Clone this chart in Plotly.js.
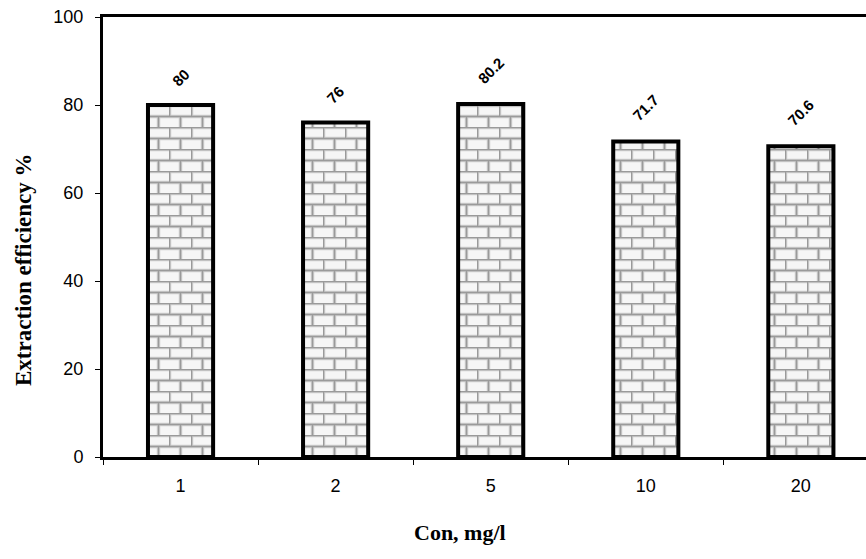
<!DOCTYPE html>
<html>
<head>
<meta charset="utf-8">
<script src="https://cdn.plot.ly/plotly-3.0.1.min.js"></script>
<style>html,body{margin:0;padding:0;background:#fff;}#chart{width:866px;height:559px;}</style>
</head>
<body>
<div id="chart"></div>
<script>
// ---- data ----
const categories = ['1', '2', '5', '10', '20'];
const values = [80, 76, 80.2, 71.7, 70.6];
const valueLabels = ['80', '76', '80.2', '71.7', '70.6'];
const yTickValues = [0, 20, 40, 60, 80, 100];
const xTitle = 'Con, mg/l';
const yTitle = 'Extraction efficiency %';

const W = 866, H = 559;
const mL = 103, mR = 0, mT = 17, mB = 102;
const plotW = W - mL - mR, plotH = H - mT - mB;
const px2x = px => (px - mL) / plotW;
const px2y = py => (H - mB - py) / plotH;

const trace = {
  type: 'bar',
  x: categories,
  y: values,
  marker: { color: '#f4f4f4', line: { color: '#000', width: 4 } },
  hoverinfo: 'none'
};

const labelAnns = categories.map((c, i) => ({
  x: i, y: values[i], xref: 'x', yref: 'y',
  text: valueLabels[i], showarrow: false, textangle: -45,
  font: { family: 'Liberation Sans, Arial, sans-serif', size: 15, color: '#000', weight: 'bold' },
  xanchor: 'center', yanchor: 'middle',
  yshift: 22 + valueLabels[i].length * 3
}));

const layout = {
  width: W, height: H,
  margin: { l: mL, r: mR, t: mT, b: mB },
  paper_bgcolor: '#fff', plot_bgcolor: '#fff',
  showlegend: false,
  bargap: 0.58,
  xaxis: {
    type: 'category', range: [-0.5, 4.42],
    tickson: 'boundaries', ticks: 'outside', ticklen: 5, tickcolor: '#000', tickwidth: 1,
    showline: true, mirror: true, linecolor: '#000', linewidth: 3,
    showgrid: false, zeroline: false, ticklabelstandoff: 10,
    tickfont: { family: 'Liberation Sans, Arial, sans-serif', size: 18, color: '#000' }
  },
  yaxis: {
    range: [0, 100], tickvals: yTickValues,
    ticks: 'outside', ticklen: 5, tickcolor: '#000', tickwidth: 1,
    showline: true, linecolor: '#000', linewidth: 3,
    showgrid: false, zeroline: false, ticklabelstandoff: 8,
    tickfont: { family: 'Liberation Sans, Arial, sans-serif', size: 18, color: '#000' }
  },
  annotations: labelAnns.concat([
    { text: xTitle, xref: 'paper', yref: 'paper', x: px2x(460), y: px2y(532), showarrow: false,
      xanchor: 'center', yanchor: 'middle',
      font: { family: 'Liberation Serif, Times New Roman, serif', size: 22, color: '#000', weight: 'bold' } },
    { text: yTitle, xref: 'paper', yref: 'paper', x: px2x(23), y: px2y(270), showarrow: false,
      textangle: -90, xanchor: 'center', yanchor: 'middle',
      font: { family: 'Liberation Serif, Times New Roman, serif', size: 23, color: '#000', weight: 'bold' } }
  ])
};

Plotly.newPlot('chart', [trace], layout, { staticPlot: true, displayModeBar: false }).then(gd => {
  const NS = 'http://www.w3.org/2000/svg';
  const svg = gd.querySelector('.main-svg');
  let defs = svg.querySelector('defs');
  if (!defs) { defs = document.createElementNS(NS, 'defs'); svg.insertBefore(defs, svg.firstChild); }
  const bw = 22, bh = 11;
  const pat = document.createElementNS(NS, 'pattern');
  pat.setAttribute('id', 'brickpat');
  pat.setAttribute('patternUnits', 'userSpaceOnUse');
  pat.setAttribute('width', bw);
  pat.setAttribute('height', bh * 2);
  const mk = (tag, attrs) => { const e = document.createElementNS(NS, tag); for (const k in attrs) e.setAttribute(k, attrs[k]); pat.appendChild(e); return e; };
  mk('rect', { x: 0, y: 0, width: bw, height: bh * 2, fill: '#f6f6f6' });
  const lines = [
    [0, 0.5, bw, 0.5], [0, bh + 0.5, bw, bh + 0.5],
    [0.5, 0, 0.5, bh], [bw / 2 + 0.5, bh, bw / 2 + 0.5, bh * 2]
  ];
  lines.forEach(l => mk('line', { x1: l[0], y1: l[1], x2: l[2], y2: l[3], stroke: '#d0d0d0', 'stroke-width': 3.5 }));
  lines.forEach(l => mk('line', { x1: l[0], y1: l[1], x2: l[2], y2: l[3], stroke: '#9a9a9a', 'stroke-width': 1.5 }));
  defs.appendChild(pat);
  gd.querySelectorAll('.bars .point path').forEach(p => { p.style.fill = 'url(#brickpat)'; p.style.fillOpacity = 1; });
});
</script>
</body>
</html>
